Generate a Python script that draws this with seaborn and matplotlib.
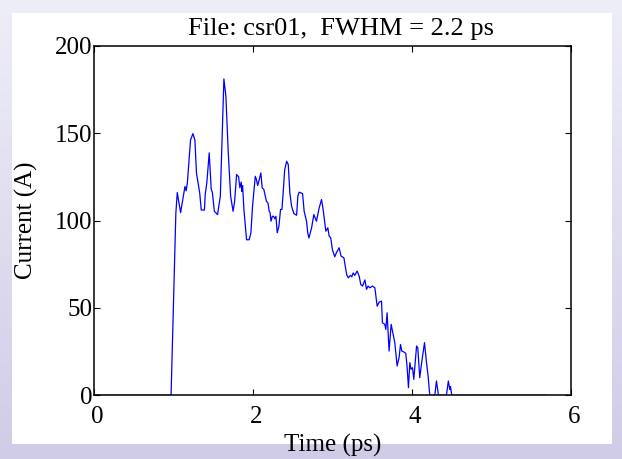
import numpy as np
import pandas as pd
import seaborn as sns
from matplotlib import pyplot as plt
from matplotlib import transforms
from matplotlib.patches import Rectangle

# bunch current profile
time_ps = [0.0, 0.97, 0.99, 1.03, 1.048, 1.09, 1.145, 1.16, 1.175, 1.215, 1.245, 1.27, 1.29, 1.33, 1.35,
           1.39, 1.40, 1.42, 1.45, 1.475, 1.49, 1.515, 1.555, 1.59, 1.61, 1.635, 1.66, 1.69, 1.72, 1.75,
           1.77, 1.795, 1.82, 1.836, 1.853, 1.862, 1.87, 1.887, 1.92, 1.953, 1.975, 1.995, 2.03, 2.045,
           2.06, 2.08, 2.10, 2.117, 2.138, 2.17, 2.19, 2.205, 2.215, 2.228, 2.245, 2.26, 2.275, 2.29,
           2.306, 2.327, 2.348, 2.365, 2.381, 2.40, 2.425, 2.445, 2.465, 2.487, 2.515, 2.55, 2.566,
           2.582, 2.625, 2.645, 2.675, 2.69, 2.705, 2.738, 2.767, 2.80, 2.834, 2.864, 2.884, 2.918,
           2.943, 2.96, 2.98, 3.0, 3.03, 3.05, 3.085, 3.11, 3.145, 3.18, 3.20, 3.228, 3.245, 3.262,
           3.283, 3.312, 3.337, 3.358, 3.38, 3.41, 3.43, 3.45, 3.472, 3.506, 3.535, 3.564, 3.589, 3.619,
           3.63, 3.66, 3.673, 3.689, 3.714, 3.74, 3.757, 3.786, 3.815, 3.84, 3.858, 3.874, 3.90, 3.924,
           3.94, 3.958, 3.975, 3.99, 4.009, 4.025, 4.06, 4.075, 4.10, 4.13, 4.16, 4.185, 4.205, 4.226,
           4.29, 4.31, 4.336, 4.436, 4.46, 4.478, 4.487, 4.503, 5.68]
current_A = [0, 0, 34, 104, 116, 104.5, 119.5, 117, 121.5, 146, 149.7, 146, 127, 116, 106,
             106, 115, 121.5, 138.7, 118, 116, 105.3, 103.4, 113.9, 144, 181, 171, 138.7, 113.9, 105.3,
             111, 126.3, 125, 118.7, 122, 116.6, 120, 106.3, 89, 89, 93, 108, 125.3, 123.4,
             120, 123.4, 127.2, 118.7, 117.7, 111, 110, 105.3, 104.7, 99.6, 102.4, 102.4, 101, 102.4,
             93, 96.6, 106.3, 106.3, 115.8, 129, 133.9, 132, 115.8, 108.2, 104, 103, 114,
             116.2, 115.4, 105.3, 99.6, 93, 90, 95.6, 103.4, 99.6, 107.2, 112, 106.3, 93.9,
             95.8, 91, 90.1, 83.4, 79.2, 81.5, 84.4, 79.6, 78.7, 69.1, 67.2, 68.6, 67.8, 70,
             68.6, 71.1, 68.2, 63.4, 62.5, 66, 60.6, 62.5, 61.5, 62.5, 61.5, 51, 53.3, 53.9,
             41.5, 40.6, 37.7, 47.2, 25.3, 40.6, 36.8, 30.1, 16.8, 21.6, 29.1, 25.3, 24.8, 24,
             16.8, 4.4, 18.7, 14.9, 15.8, 9.1, 28.2, 27.2, 10.1, 20.6, 30.1, 18.7, 11.1, 0,
             0, 8.2, 0, 0, 8.2, 3.4, 5, 0, 0]

xticks = [0, 2, 4, 6]
yticks = [0, 50, 100, 150, 200]

df = pd.DataFrame({'Time (ps)': time_ps, 'Current (A)': current_A})

sns.set_theme(style="ticks")
plt.rcParams['font.family'] = ['Liberation Serif', 'DejaVu Serif']
plt.rcParams['text.color'] = 'black'
plt.rcParams['axes.labelcolor'] = 'black'

fig = plt.figure(figsize=(6.22, 4.59), dpi=100)

# lavender slide background with a white panel
bg = fig.add_axes([0, 0, 1, 1], zorder=-2)
grad = np.linspace(0, 1, 256).reshape(-1, 1)
top_col = np.array([0.933, 0.933, 0.973])
bot_col = np.array([0.816, 0.800, 0.906])
img = top_col + (bot_col - top_col) * grad[..., None]
bg.imshow(img, aspect='auto', extent=[0, 1, 0, 1])
bg.add_patch(Rectangle((12 / 622, 1 - 444 / 459), (612 - 12) / 622, (444 - 13) / 459,
                       facecolor='white', edgecolor='none'))
bg.set_xlim(0, 1)
bg.set_ylim(0, 1)
bg.axis('off')

ax = fig.add_axes([94 / 622, 1 - 395.3 / 459, 476.7 / 622, 349.6 / 459])
sns.lineplot(data=df, x='Time (ps)', y='Current (A)', ax=ax, color='#0000ff', lw=0.9,
             sort=False, estimator=None)

ax.set_xlim(0, 6)
ax.set_ylim(0, 200)
ax.set_xticks(xticks)
ax.set_yticks(yticks)
ax.set_facecolor('white')
for s in ax.spines.values():
    s.set_visible(True)
    s.set_color('black')
    s.set_linewidth(1.1)
ax.tick_params(direction='in', length=4, width=0.8, top=True, right=True,
               labelsize=18, colors='black')
ax.tick_params(axis='y', pad=1)
ax.tick_params(axis='x', pad=8)

# matlab-style labels sit a touch right of the ticks
shift = transforms.ScaledTranslation(3 / 100, 0, fig.dpi_scale_trans)
for lbl in ax.get_xticklabels():
    lbl.set_transform(lbl.get_transform() + shift)

ax.set_xlabel('Time (ps)', fontsize=18, labelpad=4)
ax.set_ylabel('Current (A)', fontsize=18, labelpad=12)
ax.set_title('File: csr01,  FWHM = 2.2 ps', fontsize=19, pad=8, x=0.518)

plt.savefig('out.png', dpi=100)
